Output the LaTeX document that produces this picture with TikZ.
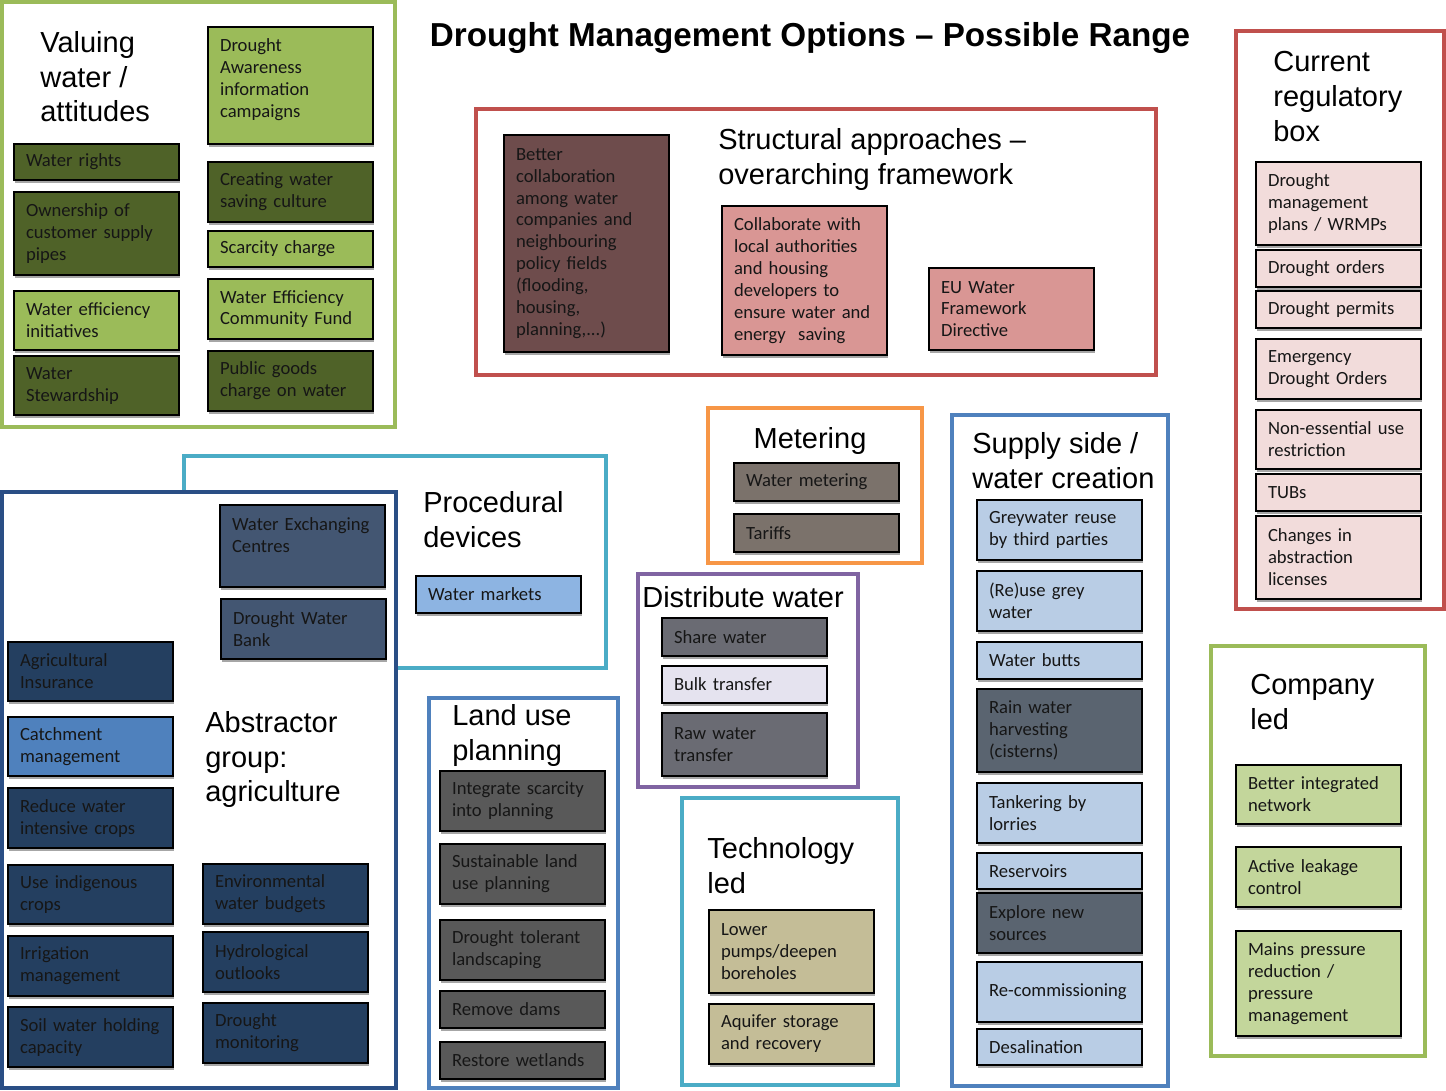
\documentclass[tikz,border=0pt]{standalone}
\usepackage{fontspec}
\setmainfont{Liberation Sans}
\newfontfamily\calibri{Carlito}
\usepackage{xcolor}
\usepackage{tikz}
\usetikzlibrary{shadows}

\definecolor{vgreen}{HTML}{9BBB59}
\definecolor{ltgreen}{HTML}{9BBB59}
\definecolor{dkgreen}{HTML}{4F6228}
\definecolor{palegreen}{HTML}{C3D69B}
\definecolor{redframe}{HTML}{C0504D}
\definecolor{brown}{HTML}{6E4C4C}
\definecolor{pink}{HTML}{D99694}
\definecolor{palepink}{HTML}{F2DCDB}
\definecolor{teal}{HTML}{4BACC6}
\definecolor{dkblue}{HTML}{2A4E85}
\definecolor{steel}{HTML}{4F81BD}
\definecolor{navy}{HTML}{243F60}
\definecolor{slateblue}{HTML}{435672}
\definecolor{midblue}{HTML}{4F81BD}
\definecolor{ltblue}{HTML}{8DB4E2}
\definecolor{paleblue}{HTML}{B9CDE5}
\definecolor{slate}{HTML}{5A6470}
\definecolor{orange}{HTML}{F79646}
\definecolor{taupe}{HTML}{7B726B}
\definecolor{purple}{HTML}{8064A2}
\definecolor{slategrey}{HTML}{6A6B73}
\definecolor{lavender}{HTML}{E5E3EF}
\definecolor{dkgrey}{HTML}{595959}
\definecolor{khaki}{HTML}{C4BD97}
\definecolor{textdark}{HTML}{161616}

\newcommand{\optfont}{\calibri\fontsize{10.6}{12.5}\selectfont}
\newcommand{\grpfont}{\fontsize{16.5}{19.8}\selectfont}

\begin{document}
\begin{tikzpicture}[
  x=0.02cm, y=-0.02cm,
  opt/.style={draw=black, line width=1.2pt, anchor=north west, inner xsep=0.24cm, inner ysep=0pt,
    text width=2.82cm, minimum height=#1*0.02cm, align=left, font=\optfont, text=textdark,
    drop shadow={shadow xshift=0.6pt, shadow yshift=-1.8pt, opacity=0.35, fill=black}},
  frame/.style={line width=2pt},
  grptitle/.style={anchor=north west, inner sep=0pt, align=left, font=\grpfont, text=black}
]
  \useasboundingbox (0,0) rectangle (1446,1091);

  \node[font=\fontsize{18.9}{23}\selectfont\bfseries] (title) at (810,38) {Drought Management Options -- Possible Range};

  % valuing water
  \draw[frame, vgreen] (2,2) rectangle (395,427);
  \node[grptitle] (valuing) at (40,31) {Valuing\\water /\\attitudes};
  \node[opt=117, fill=ltgreen] (dawar) at (207,26) {Drought\\Awareness\\information\\campaigns\\[-4pt]\mbox{}};
  \node[opt=36, fill=dkgreen] (wrights) at (13,143) {Water rights};
  \node[opt=83, fill=dkgreen] (ownpipes) at (13,191) {Ownership of\\customer supply\\pipes};
  \node[opt=59, fill=ltgreen] (weffinit) at (13,290) {Water efficiency\\initiatives};
  \node[opt=59, fill=dkgreen] (wsteward) at (13,355) {Water\\Stewardship};
  \node[opt=60, fill=dkgreen] (saveculture) at (207,161) {Creating water\\saving culture};
  \node[opt=36, fill=ltgreen] (scarcity) at (207,230) {Scarcity charge};
  \node[opt=60, fill=ltgreen] (wecf) at (207,278) {Water Efficiency\\Community Fund};
  \node[opt=60, fill=dkgreen] (pubgoods) at (207,350) {Public goods\\charge on water};

  % structural approaches
  \draw[frame, redframe] (476,109) rectangle (1156,375);
  \node[grptitle] (structural) at (718,128) {Structural approaches --\\overarching framework};
  \node[opt=217, fill=brown] (collab) at (503,134) {Better\\collaboration\\among water\\companies and\\neighbouring\\policy fields\\(flooding,\\housing,\\planning,...)};
  \node[opt=149, fill=pink] (localauth) at (721,205) {Collaborate with\\local authorities\\and housing\\developers to\\ensure water and\\energy\ \ saving};
  \node[opt=82, fill=pink] (wfd) at (928,267) {EU Water\\Framework\\Directive};

  % current regulatory box
  \draw[frame, redframe] (1236,31) rectangle (1444,609);
  \node[grptitle] (regulatory) at (1273,51) {Current\\regulatory\\box};
  \node[opt=83, fill=palepink] (dmp) at (1255,161) {Drought\\management\\plans / WRMPs};
  \node[opt=37, fill=palepink] (dorders) at (1255,249) {Drought orders};
  \node[opt=37, fill=palepink] (dpermits) at (1255,290) {Drought permits};
  \node[opt=60, fill=palepink] (edo) at (1255,338) {Emergency\\Drought Orders};
  \node[opt=59, fill=palepink] (nonessential) at (1255,409) {Non-essential use\\restriction};
  \node[opt=37, fill=palepink] (tubs) at (1255,473) {TUBs};
  \node[opt=83, fill=palepink] (abslic) at (1255,515) {Changes in\\abstraction\\licenses};

  % procedural devices
  \draw[frame, teal] (184,456) rectangle (606,668);
  \node[grptitle] (procedural) at (423,491) {Procedural\\devices};
  \node[opt=37, fill=ltblue] (wmarkets) at (415,575) {Water markets};

  % abstractor group
  \filldraw[frame, draw=dkblue, fill=white] (2,492) rectangle (396,1088);
  \node[grptitle] (abstractor) at (205,711) {Abstractor\\group:\\agriculture};
  \node[opt=82, fill=slateblue] (wec) at (219,504) {Water Exchanging\\Centres\\\mbox{}};
  \node[opt=60, fill=slateblue] (dwbank) at (220,598) {Drought Water\\Bank};
  \node[opt=59, fill=navy] (aginsure) at (7,641) {Agricultural\\Insurance};
  \node[opt=59, fill=midblue] (catchment) at (7,716) {Catchment\\management};
  \node[opt=60, fill=navy] (reducecrops) at (7,787) {Reduce water\\intensive crops};
  \node[opt=59, fill=navy] (indigenous) at (7,864) {Use indigenous\\crops};
  \node[opt=60, fill=navy] (irrigation) at (7,935) {Irrigation\\management};
  \node[opt=60, fill=navy] (soilwater) at (7,1006) {Soil water holding\\capacity};
  \node[opt=60, fill=navy] (envbudgets) at (202,863) {Environmental\\water budgets};
  \node[opt=60, fill=navy] (hydro) at (202,931) {Hydrological\\outlooks};
  \node[opt=60, fill=navy] (dmonitor) at (202,1002) {Drought\\monitoring};

  % metering
  \draw[frame, orange] (708,408) rectangle (922,563);
  \node[grptitle, anchor=north] (metering) at (810,427) {Metering};
  \node[opt=38, fill=taupe] (wmeter) at (733,462) {Water metering};
  \node[opt=38, fill=taupe] (tariffs) at (733,513) {Tariffs};

  % distribute water
  \draw[frame, purple] (638,574) rectangle (858,787);
  \node[grptitle] (distribute) at (642,586) {Distribute water};
  \node[opt=38, fill=slategrey] (share) at (661,617) {Share water};
  \node[opt=37, fill=lavender] (bulk) at (661,665) {Bulk transfer};
  \node[opt=63, fill=slategrey] (rawtransfer) at (661,712) {Raw water\\transfer};

  % land use planning
  \draw[frame, steel] (429,698) rectangle (618,1088);
  \node[grptitle] (landuse) at (452,704) {Land use\\planning};
  \node[opt=60, fill=dkgrey] (integrate) at (439,770) {Integrate scarcity\\into planning};
  \node[opt=60, fill=dkgrey] (sustland) at (439,843) {Sustainable land\\use planning};
  \node[opt=60, fill=dkgrey] (tolerant) at (439,919) {Drought tolerant\\landscaping};
  \node[opt=37, fill=dkgrey] (dams) at (439,990) {Remove dams};
  \node[opt=37, fill=dkgrey] (wetlands) at (439,1041) {Restore wetlands};

  % technology led
  \draw[frame, teal] (682,798) rectangle (898,1085);
  \node[grptitle] (technology) at (707,837) {Technology\\led};
  \node[opt=83, fill=khaki] (pumps) at (708,909) {Lower\\pumps/deepen\\boreholes};
  \node[opt=60, fill=khaki] (aquifer) at (708,1003) {Aquifer storage\\and recovery};

  % supply side
  \draw[frame, steel] (952,415) rectangle (1168,1086);
  \node[grptitle] (supply) at (972,432) {Supply side /\\water creation};
  \node[opt=60, fill=paleblue] (greyreuse) at (976,499) {Greywater reuse\\by third parties};
  \node[opt=60, fill=paleblue] (reusegrey) at (976,570) {(Re)use grey\\water};
  \node[opt=37, fill=paleblue] (butts) at (976,641) {Water butts};
  \node[opt=83, fill=slate] (rainharvest) at (976,688) {Rain water\\harvesting\\(cisterns)};
  \node[opt=60, fill=paleblue] (tankering) at (976,782) {Tankering by\\lorries};
  \node[opt=36, fill=paleblue] (reservoirs) at (976,852) {Reservoirs};
  \node[opt=60, fill=slate] (newsources) at (976,892) {Explore new\\sources};
  \node[opt=60, fill=paleblue] (recommission) at (976,961) {Re-commissioning};
  \node[opt=36, fill=paleblue] (desal) at (976,1028) {Desalination};

  % company led
  \draw[frame, vgreen] (1211,646) rectangle (1425,1056);
  \node[grptitle] (company) at (1250,674) {Company\\led};
  \node[opt=59, fill=palegreen] (integnet) at (1235,764) {Better integrated\\network};
  \node[opt=60, fill=palegreen] (leakage) at (1235,846) {Active leakage\\control};
  \node[opt=105, fill=palegreen] (mains) at (1235,930) {Mains pressure\\reduction /\\pressure\\management};
\end{tikzpicture}
\end{document}
